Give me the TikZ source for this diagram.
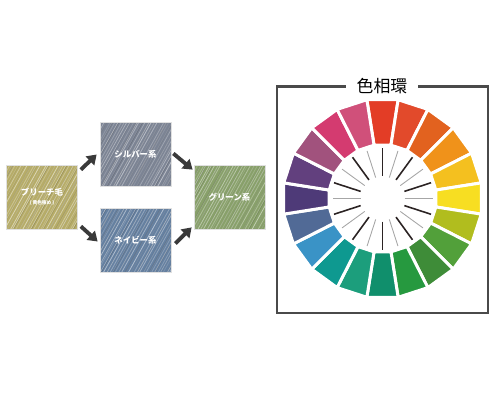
\documentclass[tikz,border=0pt]{standalone}
\usepackage{fontspec}
\newfontfamily\jp{Noto Sans CJK JP}
\usetikzlibrary{arrows.meta,calc}

\definecolor{bleachcol}{HTML}{B6AC68}
\definecolor{silvercol}{HTML}{7C8494}
\definecolor{navycol}{HTML}{6580A0}
\definecolor{greencol}{HTML}{88A06A}
\definecolor{framecol}{HTML}{4A4A4A}
\definecolor{arrowcol}{HTML}{3A3A3A}
\definecolor{spokecol}{HTML}{2B2323}

\pgfmathsetseed{7}
\tikzset{
  streaks/.style={path picture={
    \foreach \k in {-48,-45,...,72} {
      \pgfmathsetmacro\op{0.12+0.4*rnd}
      \pgfmathsetmacro\dk{1.5*rnd}
      \draw[white,opacity=\op,line width=0.45pt]
        ([shift={(\k+\dk,0)}]path picture bounding box.south west) -- ++(40,-72);
    }
    \foreach \k in {-47,-41,...,72} {
      \pgfmathsetmacro\op{0.05+0.15*rnd}
      \draw[black,opacity=\op,line width=0.4pt]
        ([shift={(\k,0)}]path picture bounding box.south west) -- ++(40,-72);
    }
  }},
  hairbox/.style={draw=white!88!black,line width=0.4pt,minimum width=71*0.02cm,
    minimum height=64*0.02cm,inner sep=0pt,streaks,text=white,
    font=\jp\bfseries\fontsize{4.8pt}{5pt}\selectfont},
  bigarrow/.style={arrowcol,line width=2.2pt,-{Triangle[length=5.3pt,width=6.8pt]}},
  frame/.style={framecol,line width=1.5pt},
}

\begin{document}
\begin{tikzpicture}[x=0.02cm,y=-0.02cm]
  \useasboundingbox (0,0) rectangle (500,400);

  % Hair colour boxes
  \node[hairbox,fill=bleachcol] (bleach) at (42,197) {};
  \node[text=white,font=\jp\bfseries\fontsize{4.8pt}{5pt}\selectfont] (bleachtxt) at (42,192.5) {ブリーチ毛};
  \node[text=white,font=\jp\bfseries\fontsize{2.7pt}{3pt}\selectfont] (bleachsub) at (42,203) {(\,黄色強め\,)};
  \node[hairbox,fill=silvercol] (silver) at (135.5,154.5) {シルバー系};
  \node[hairbox,fill=navycol] (navy) at (135.5,240.5) {ネイビー系};
  \node[hairbox,fill=greencol] (green) at (229.5,197) {グリーン系};

  % Arrows
  \draw[bigarrow] ([shift={(3,5)}]bleach.north east) -- ([shift={(-3,0)}]silver.west);
  \draw[bigarrow] ([shift={(3,-3)}]bleach.south east) -- ([shift={(-2,1)}]navy.west);
  \draw[bigarrow] ([shift={(2,-1)}]silver.east) -- ([shift={(-1,5)}]green.north west);
  \draw[bigarrow] ([shift={(4,3)}]navy.east) -- ([shift={(-2,-2)}]green.south west);

  % Frame with title
  \node[inner xsep=6pt,inner ysep=0pt,font=\jp\fontsize{9.6pt}{10pt}\selectfont]
    (wheeltitle) at (382,86.5) {色相環};
  \draw[frame] (wheeltitle.west) -- (277,86.5) -- (277,313) -- (488,313)
    -- (488,86.5) -- (wheeltitle.east);

  % Colour wheel
  \coordinate (wheel) at (382.5,198.5);
  \begin{scope}[shift={(wheel)}]
    \foreach \c [count=\i from 0] in {E33D26,E24A2B,E2621F,F0921A,F4C01F,F7DE22,
        B1BD1E,52A03A,3E8C38,26993F,108F6C,1C9E7C,0E9990,3A93C6,516A96,
        4E3A78,62407E,A1527D,D43B70,D0507A} {
      \pgfmathsetmacro\a{-90+18*\i}
      \definecolor{segcol}{HTML}{\c}
      \filldraw[fill=segcol,draw=white,line width=1.7pt,line join=miter]
        ({\a-9}:100) -- ({\a+9}:100) -- ({\a+9}:54) -- ({\a-9}:54) -- cycle;
    }
    % Spokes
    \foreach \a in {-90,-54,...,234}
      \draw[spokecol,line width=0.9pt] (\a:23) -- (\a:51);
    \foreach \a in {-72,-36,...,252}
      \draw[black!35,line width=0.5pt] (\a:22) -- (\a:50);
  \end{scope}
\end{tikzpicture}
\end{document}
